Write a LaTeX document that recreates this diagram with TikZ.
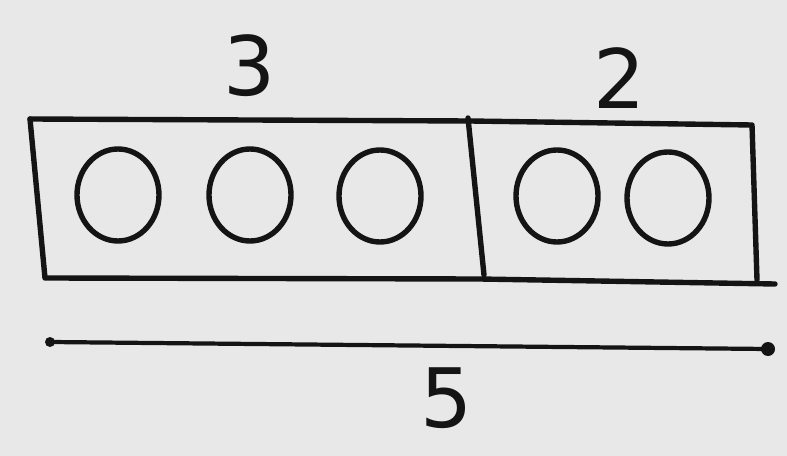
\documentclass[tikz,border=0pt]{standalone}
\usepackage{fontspec}
\setmainfont{DejaVu Sans}
\usetikzlibrary{shapes.geometric}
\tikzset{
  ink/.style={line width=4.6pt, draw=black!92, line cap=round, line join=round},
  ball/.style={ink, ellipse, minimum width=82*0.03cm, minimum height=92*0.03cm, inner sep=0pt},
  numlabel/.style={font=\fontsize{70}{70}\selectfont, text=black!92, inner sep=0pt}
}
\begin{document}
\begin{tikzpicture}[x=0.03cm,y=-0.03cm]
\fill[gray!18] (0,0) rectangle (787,456);
\useasboundingbox (0,0) rectangle (787,456);
% labels
\node[numlabel] (l3) at (250,66) {3};
\node[numlabel] (l2) at (620,78) {2};
\node[numlabel] (l5) at (447,398) {5};
% boxes
\draw[ink] (30,119) -- (470,121) -- (752,125) -- (757,280);
\draw[ink] (30,119) -- (45,278) -- (480,279) -- (775,284);
\draw[ink] (468,118) -- (484,275);
% circles
\node[ball] (c1) at (118,195) {};
\node[ball] (c2) at (250,195) {};
\node[ball] (c3) at (380,196) {};
\node[ball] (c4) at (557,196) {};
\node[ball] (c5) at (668,198) {};
% total line
\coordinate (a) at (50,342);
\coordinate (b) at (768,349);
\draw[ink, line width=3.6pt] (a) -- (b);
\fill[black!92] (a) circle (5);
\fill[black!92] (b) circle (7);
\end{tikzpicture}
\end{document}
